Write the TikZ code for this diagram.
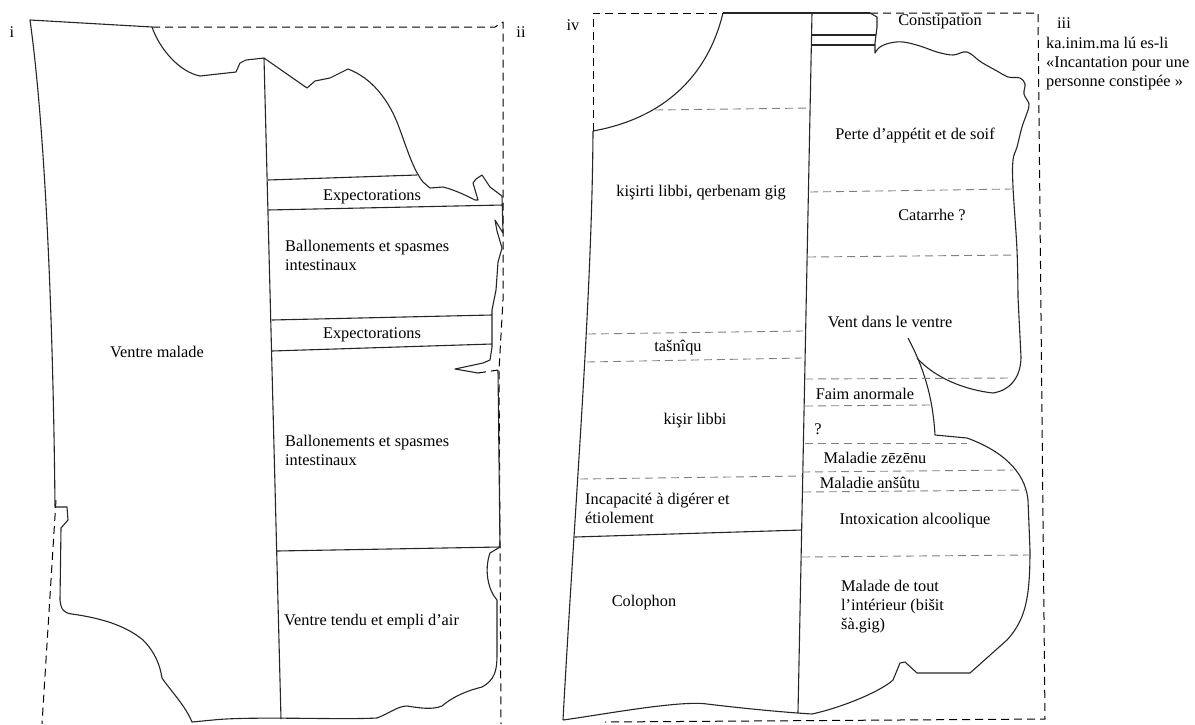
\documentclass[tikz,border=0pt]{standalone}
\usepackage{fontspec}
\setmainfont{Liberation Serif}

\begin{document}
\begin{tikzpicture}[x=1pt, y=-1pt, line join=round,
		every node/.style={font=\fontsize{16.3}{19}\selectfont, inner sep=0pt},
		edge/.style={line width=1.1pt, black!85},
		lost/.style={line width=1pt, dash pattern=on 8pt off 5pt},
		seam/.style={line width=0.9pt, dash pattern=on 8pt off 5pt, black!50}]
	\useasboundingbox (0,0) rectangle (1195,724);

	% face i / ii
	\draw[lost] (152,27) -- (495,27) -- (503,22) -- (503,300) -- (499,370) -- (501,724);
	\draw[lost] (56,500) -- (42,724);

	\draw[edge] (152,27) -- (30,20) .. controls (44,120) and (53,300) .. (55,507) -- (67,507) -- (68,520)
		-- (61,528) -- (60,600) .. controls (61,610) and (64,613) .. (72,614)
		.. controls (100,618) and (125,625) .. (143,640) .. controls (155,652) and (160,665) .. (162,678)
		.. controls (170,690) and (185,705) .. (192,722) -- (213,720)
		.. controls (250,716) and (340,720) .. (377,718) .. controls (390,713) and (398,706) .. (407,706)
		.. controls (420,708) and (432,710) .. (442,706) .. controls (455,695) and (470,690) .. (482,687)
		.. controls (495,680) and (497,670) .. (497,655) -- (497,600)
		.. controls (488,590) and (484,570) .. (490,553) -- (500,547) -- (498,370);
	\draw[lost] (478,373) -- (498,370);

	\draw[edge] (152,27) .. controls (160,50) and (180,72) .. (200,76) -- (236,72) -- (240,63) -- (246,60) -- (264,58)
		-- (307,88) -- (315,81) -- (330,78) -- (348,69) .. controls (372,78) and (388,100) .. (397,122)
		.. controls (406,145) and (412,168) .. (423,182) -- (430,188) -- (443,187)
		.. controls (455,190) and (465,195) .. (475,200) -- (478,200) -- (473,183) -- (476,179) -- (482,175)
		-- (490,187) -- (502,196) -- (503,233) -- (495,220) -- (497,231) -- (502,248) -- (498,262)
		-- (496,290) -- (492,310) -- (492,347) -- (490,360) -- (483,363) -- (455,369) -- (478,373);

	\draw[edge] (264,58) -- (281,719);
	\draw[edge] (268,180) -- (417,175);
	\draw[edge] (268,210) -- (503,205);
	\draw[edge] (272,320) -- (492,315);
	\draw[edge] (272,351) -- (492,344);
	\draw[edge] (277,551) -- (500,547);

	\node (facei) at (12,32) {i};
	\node (faceii) at (521,32) {ii};
	\node (ventre) at (157,352) {Ventre malade};
	\node (expecta) at (372,197) {Expectorations};
	\node[anchor=north west, align=left] (ballona) at (285,240) {Ballonements et spasmes\\intestinaux};
	\node (expectb) at (372,335) {Expectorations};
	\node[anchor=north west, align=left] (ballonb) at (285,435) {Ballonements et spasmes\\intestinaux};
	\node[anchor=west] (tendu) at (284,622) {Ventre tendu et empli d’air};

	% face iv / iii
	\draw[lost] (593,131) -- (593,13) -- (723,13);
	\draw[lost] (870,13) -- (1038,13) -- (1045,719) -- (605,722);

	\draw[edge] (723,13) -- (870,13);
	\draw[edge] (723,13) .. controls (708,75) and (665,118) .. (593,131);
	\draw[edge] (593,131) .. controls (592,300) and (575,500) .. (563,720);
	\draw[edge] (563,720) .. controls (600,715) and (680,700) .. (707,704)
		.. controls (740,708) and (780,712) .. (812,714) .. controls (840,708) and (880,692) .. (893,680)
		-- (900,663) -- (905,662) -- (917,673) -- (970,673) -- (1007,640)
		.. controls (1025,620) and (1030,600) .. (1030,550) -- (1028,500)
		.. controls (1025,470) and (1000,450) .. (967,438) -- (935,435)
		.. controls (933,400) and (925,370) .. (908,338);
	\draw[edge] (917,358) .. controls (935,378) and (965,390) .. (993,393)
		.. controls (1012,390) and (1021,375) .. (1021,357) -- (1018,297)
		plot[smooth, tension=0.6] coordinates {(1018,297) (1017,250) (1013,187) (1013,160) (1017,147) (1022,127)
			(1027,113) (1029,104) (1024,94) (1025,84) (1020,78) (1008,77) (997,71) (981,62) (967,52) (953,55)
			(937,52) (920,46) (903,42) (890,43) (880,47) (875,53)}
		-- (875,43) -- (877,27) -- (877,17) -- (870,13);

	\draw[edge] (812,13) -- (798,713);
	\draw[edge] (812,35) -- (876,35);
	\draw[edge] (812,45) -- (875,45);
	\draw[edge] (575,537) -- (802,530);

	\draw[seam] (655,110) -- (810,108);
	\draw[seam] (588,334) -- (803,331);
	\draw[seam] (587,362) -- (802,358);
	\draw[seam] (580,479) -- (803,476);

	\draw[seam] (810,192) -- (1012,189);
	\draw[seam] (808,257) -- (1015,255);
	\draw[seam] (805,379) -- (1013,378);
	\draw[seam] (805,406) -- (930,405);
	\draw[seam] (805,443) -- (967,443);
	\draw[seam] (802,472) -- (1013,470);
	\draw[seam] (803,492) -- (1027,490);
	\draw[seam] (802,557) -- (1030,555);

	\node (faceiv) at (573,25) {iv};
	\node (kisirti) at (701,193) {kişirti libbi, qerbenam gig};
	\node (tasniqu) at (678,348) {tašnîqu};
	\node (kisir) at (695,421) {kişir libbi};
	\node[anchor=north west, align=left] (incap) at (585,493) {Incapacité à digérer et\\étiolement};
	\node (colophon) at (644,603) {Colophon};

	\node (constip) at (940,22) {Constipation};
	\node (perte) at (915,135) {Perte d’appétit et de soif};
	\node (catarrhe) at (932,215) {Catarrhe ?};
	\node (vent) at (890,322) {Vent dans le ventre};
	\node (faim) at (865,394) {Faim anormale};
	\node (quest) at (818,429) {?};
	\node (zezenu) at (875,458) {Maladie zēzēnu};
	\node (ansutu) at (870,483) {Maladie anšûtu};
	\node (intox) at (915,521) {Intoxication alcoolique};
	\node[anchor=north west, align=left] (maladetout) at (841,580) {Malade de tout\\l’intérieur (bišit\\šà.gig)};

	\node (faceiii) at (1064,23) {iii};
	\node[anchor=north west, align=left] (incant) at (1046,37) {ka.inim.ma lú es-li\\«Incantation pour une\\personne constipée »};
\end{tikzpicture}
\end{document}
